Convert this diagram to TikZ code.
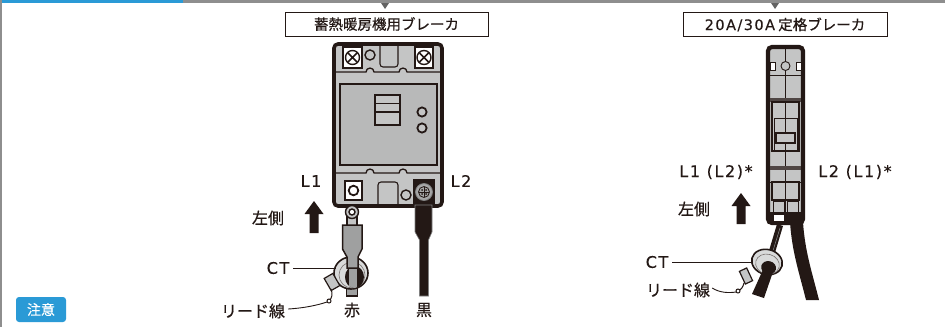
\documentclass[tikz,border=0pt]{standalone}
\usepackage{fontspec}
\setmainfont{Noto Sans CJK JP}[FakeBold=0.5]
\newfontfamily\latin{DejaVu Sans}[LetterSpace=10, FakeBold=0.3]
\usetikzlibrary{arrows.meta}
\definecolor{ink}{HTML}{231815}
\definecolor{bodygray}{HTML}{C4C5C5}
\definecolor{panelgray}{HTML}{B8B9B9}
\definecolor{wiregray}{HTML}{9FA0A0}
\definecolor{ringgray}{HTML}{D9DADA}
\definecolor{barblue}{HTML}{2A9AD6}
\definecolor{bargray}{HTML}{8E8E8E}
\tikzset{
  lbl/.style={inner sep=0pt, text=ink, font=\fontsize{16}{18}\selectfont},
  boxlbl/.style={draw=ink, line width=1pt, fill=white, inner sep=0pt, text=ink,
    font=\fontsize{14.5}{16}\selectfont, minimum height=24pt},
  leader/.style={draw=ink, line width=0.9pt},
  thinl/.style={draw=ink, line width=1.1pt},
  upar/.style={fill=ink},
}
\newcommand{\screwx}[2]{%
  \draw[ink, line width=1.4pt, fill=white] (#1,#2) circle (7);
  \draw[ink, line width=1.5pt] (#1-4.5,#2-4.5) -- (#1+4.5,#2+4.5) (#1-4.5,#2+4.5) -- (#1+4.5,#2-4.5);}
\begin{document}
\begin{tikzpicture}[x=1pt,y=-1pt]
\useasboundingbox (0,0) rectangle (945,327);
% frame: top rule and left edge
\fill[bargray] (0,0) rectangle (945,3);
\fill[barblue] (0,0) rectangle (183,3);
\fill[bargray] (0,0) rectangle (2,327);
% pointers under the rule
\fill[bargray!70!black] (381,3) -- (389,3) -- (385,9) -- cycle;
\fill[bargray!70!black] (771,3) -- (779,3) -- (775,9) -- cycle;

% breaker captions
\node[boxlbl, minimum width=203pt] (capa) at (386.5,24) {蓄熱暖房機用ブレーカ};
\node[boxlbl, minimum width=204pt] (capb) at (785,24.5) {{\latin 20A/30A} 定格ブレーカ};

% ---------- left breaker ----------
\draw[ink, line width=3.6pt, fill=bodygray, rounded corners=4pt] (334,44) rectangle (442,206);
% upper terminals
\draw[thinl, fill=white] (343,47) rectangle (362,68);
\screwx{352.5}{57.5}
\draw[ink, line width=1.4pt, fill=bodygray] (370,55) circle (5);
\draw[thinl] (380,45) -- (380,64) arc[start angle=180,end angle=90,radius=3] -- (395,67) arc[start angle=90,end angle=0,radius=3] -- (398,45);
\draw[thinl, fill=white] (415,47) rectangle (433,68);
\screwx{424}{57.5}
% ridges
\draw[ink, line width=1.3pt] (336,72) -- (366,72) arc[start angle=180,end angle=360,radius=4] -- (399,72) arc[start angle=180,end angle=360,radius=4] -- (440,72);
\draw[ink, line width=1.3pt] (336,173) -- (366,173) arc[start angle=180,end angle=360,radius=4] -- (399,173) arc[start angle=180,end angle=360,radius=4] -- (440,173);
% front panel
\draw[ink, line width=1.5pt, fill=panelgray] (340,84) rectangle (437,165);
% handle
\draw[ink, line width=1.8pt, fill=bodygray] (375,95) rectangle (400,125);
\draw[ink, line width=0.9pt] (375,103) -- (400,103);
\draw[ink, line width=1.8pt] (375,112) -- (400,112);
% indicator lamps
\draw[ink, line width=1.8pt, fill=bodygray] (422,112) circle (4.6);
\draw[ink, line width=1.8pt, fill=bodygray] (422,128) circle (4.6);
% lower terminals
\draw[thinl, fill=white] (345,181) rectangle (362,200);
\draw[ink, line width=1.8pt, fill=white] (353.5,190.5) circle (4.8);
\draw[thinl] (378,206) -- (378,185) arc[start angle=180,end angle=270,radius=3] -- (395,182) arc[start angle=270,end angle=360,radius=3] -- (398,206);
\draw[ink, line width=1.4pt, fill=bodygray] (406,195) circle (5);
\fill[ink] (413,179) rectangle (435,206);
\draw[gray, line width=0.8pt, fill=bodygray!85!black] (424,192) circle (8.5);
\draw[ink, line width=0.8pt] (424,192) circle (5.5);
\draw[ink, line width=0.7pt] (424,187) -- (424,197) (419,192) -- (429,192);
\foreach \dx/\dy in {-2/-2,2/-2,-2/2,2/2}{\fill[ink] (424+\dx,192+\dy) circle (1);}

% red wire, lug and CT (left)
\draw[ink, line width=1.5pt, fill=wiregray] (346.5,282) rectangle (357.5,296);
\draw[ink, line width=1.6pt, fill=ringgray] (351,273) ellipse[x radius=17, y radius=16];
\draw[ink!60, line width=0.6pt] (352,275) ellipse[x radius=13, y radius=13];
\fill[ink] (354.5,277) ellipse[x radius=9.5, y radius=11];
\begin{scope}
  \clip (354.5,277) ellipse[x radius=9.5, y radius=11];
  \fill[wiregray] (348.5,260) rectangle (357,296);
\end{scope}
\draw[ink, line width=1.4pt, fill=bodygray] (347,212) rectangle (357,226);
\draw[ink, line width=1.4pt, fill=bodygray] (352,212) circle (6.5);
\draw[ink, line width=1.4pt, fill=white] (352,212) circle (3);
\draw[ink, line width=1.5pt, fill=wiregray] (342.5,225) -- (362,225) -- (362,249) -- (358,257) -- (358,268) -- (347,268) -- (347,257) -- (342.5,249) -- cycle;
% lead connector (left)
\draw[ink, line width=1.2pt, fill=bodygray, rotate around={30:(332,282)}] (327,275) rectangle (337,289);
\draw[ink, line width=1pt] (331,289) .. controls (333,294) and (332,298) .. (329,301);
\draw[ink, line width=1pt, fill=white] (329,301) circle (2);
\coordinate (leadenda) at (327,302);

% black wire (left)
\draw[gray, line width=0.6pt, fill=ink] (415,205) -- (432,205) -- (432,232) -- (428.5,240) -- (428.5,296) -- (419.5,296) -- (419.5,240) -- (415,232) -- cycle;

% labels (left)
\node[lbl] (l1a) at (311,181) {\latin L1};
\node[lbl] (l2a) at (461,181) {\latin L2};
\node[lbl] (sidea) at (268,218) {左側};
\fill[upar] (309.5,233) -- (318.5,233) -- (318.5,214) -- (323.5,214) -- (314,201) -- (304.5,214) -- (309.5,214) -- cycle;
\node[lbl] (cta) at (278,268) {\latin CT};
\coordinate (ctpa) at (336,268);
\draw[leader] ([xshift=4pt]cta.east) -- (ctpa);
\node[lbl] (leada) at (253,311) {リード線};
\draw[leader] ([xshift=3pt,yshift=2pt]leada.east) .. controls (305,308) and (318,305) .. (leadenda);
\node[lbl] (reda) at (352,310) {赤};
\node[lbl] (blacka) at (424,310) {黒};

% ---------- right breaker ----------
\draw[ink, line width=4.2pt, fill=bodygray, rounded corners=4pt] (768,47) rectangle (803,223);
\fill[ink] (768,212) rectangle (803,224);
\fill[white] (774,215) rectangle (784,221);
\draw[ink, line width=0.9pt] (785.5,49) -- (785.5,212);
\draw[ink, line width=0.9pt, fill=white] (770,62) rectangle (775,70);
\draw[ink, line width=0.9pt, fill=white] (796,62) rectangle (801,70);
\draw[ink, line width=0.9pt, fill=bodygray] (785.5,66) circle (4.5);
\draw[ink, line width=0.9pt] (770,75) -- (801,75);
\fill[ink!80] (770,98) rectangle (801,102);
\draw[ink, line width=1.1pt] (772,102) rectangle (799,151);
\draw[ink, line width=0.9pt] (774,118) rectangle (797,151);
\draw[ink, line width=1.1pt, fill=bodygray] (776,133) rectangle (795,143);
\fill[ink!80] (770,166) rectangle (801,170);
\draw[ink, line width=0.9pt] (770,182) -- (801,182);
\draw[ink, line width=1.1pt] (772,182) rectangle (799,200);
\draw[ink, line width=0.9pt] (773,201) rectangle (784,212);
\draw[ink, line width=0.9pt] (787,201) rectangle (798,212);

% wires and CT (right)
\fill[ink] (790,222) .. controls (792,252) and (799,272) .. (806,300) -- (819,300) .. controls (812,272) and (805,252) .. (803,222) -- cycle;
\fill[ink] (777,224) -- (783,226) -- (774,256) -- (768,254) -- cycle;
\draw[gray, line width=0.6pt] (780,228) -- (772,254);
\draw[ink, line width=1.6pt, fill=ringgray, rotate around={-15:(767,262)}] (767,262) ellipse[x radius=15.5, y radius=12.5];
\draw[ink!60, line width=0.6pt, rotate around={-15:(767,262)}] (768,264) ellipse[x radius=12, y radius=10];
\fill[ink, rotate around={-15:(767,262)}] (770,267) ellipse[x radius=7.5, y radius=6.5];
\fill[ink] (766,263) -- (775,266) -- (764,298) -- (752,294) -- cycle;
\draw[ink, line width=1.2pt, fill=bodygray, rotate around={25:(746,276)}] (742,269) rectangle (750,283);
\draw[ink, line width=1pt] (744,283) .. controls (743,287) and (741,290) .. (738,291);
\draw[ink, line width=1pt, fill=white] (738,291) circle (2);
\coordinate (leadendb) at (736,292);

% labels (right)
\node[lbl] (l1b) at (716,172) {\latin L1 (L2)*};
\node[lbl] (l2b) at (855,172) {\latin L2 (L1)*};
\node[lbl] (sideb) at (694,209) {左側};
\fill[upar] (736.5,224) -- (745.5,224) -- (745.5,206) -- (750.5,206) -- (741,193) -- (731.5,206) -- (736.5,206) -- cycle;
\node[lbl] (ctb) at (657,262) {\latin CT};
\coordinate (ctpb) at (752,262);
\draw[leader] ([xshift=4pt]ctb.east) -- (ctpb);
\node[lbl] (leadb) at (678,290) {リード線};
\draw[leader] ([xshift=2pt,yshift=2pt]leadb.east) .. controls (720,293) and (729,293) .. (leadendb);

% notice badge
\node[fill=barblue, rounded corners=3pt, text=white, inner sep=0pt,
  minimum width=50pt, minimum height=25pt, font=\fontsize{14}{16}\selectfont] (note) at (41,309.5) {注意};
\end{tikzpicture}
\end{document}
